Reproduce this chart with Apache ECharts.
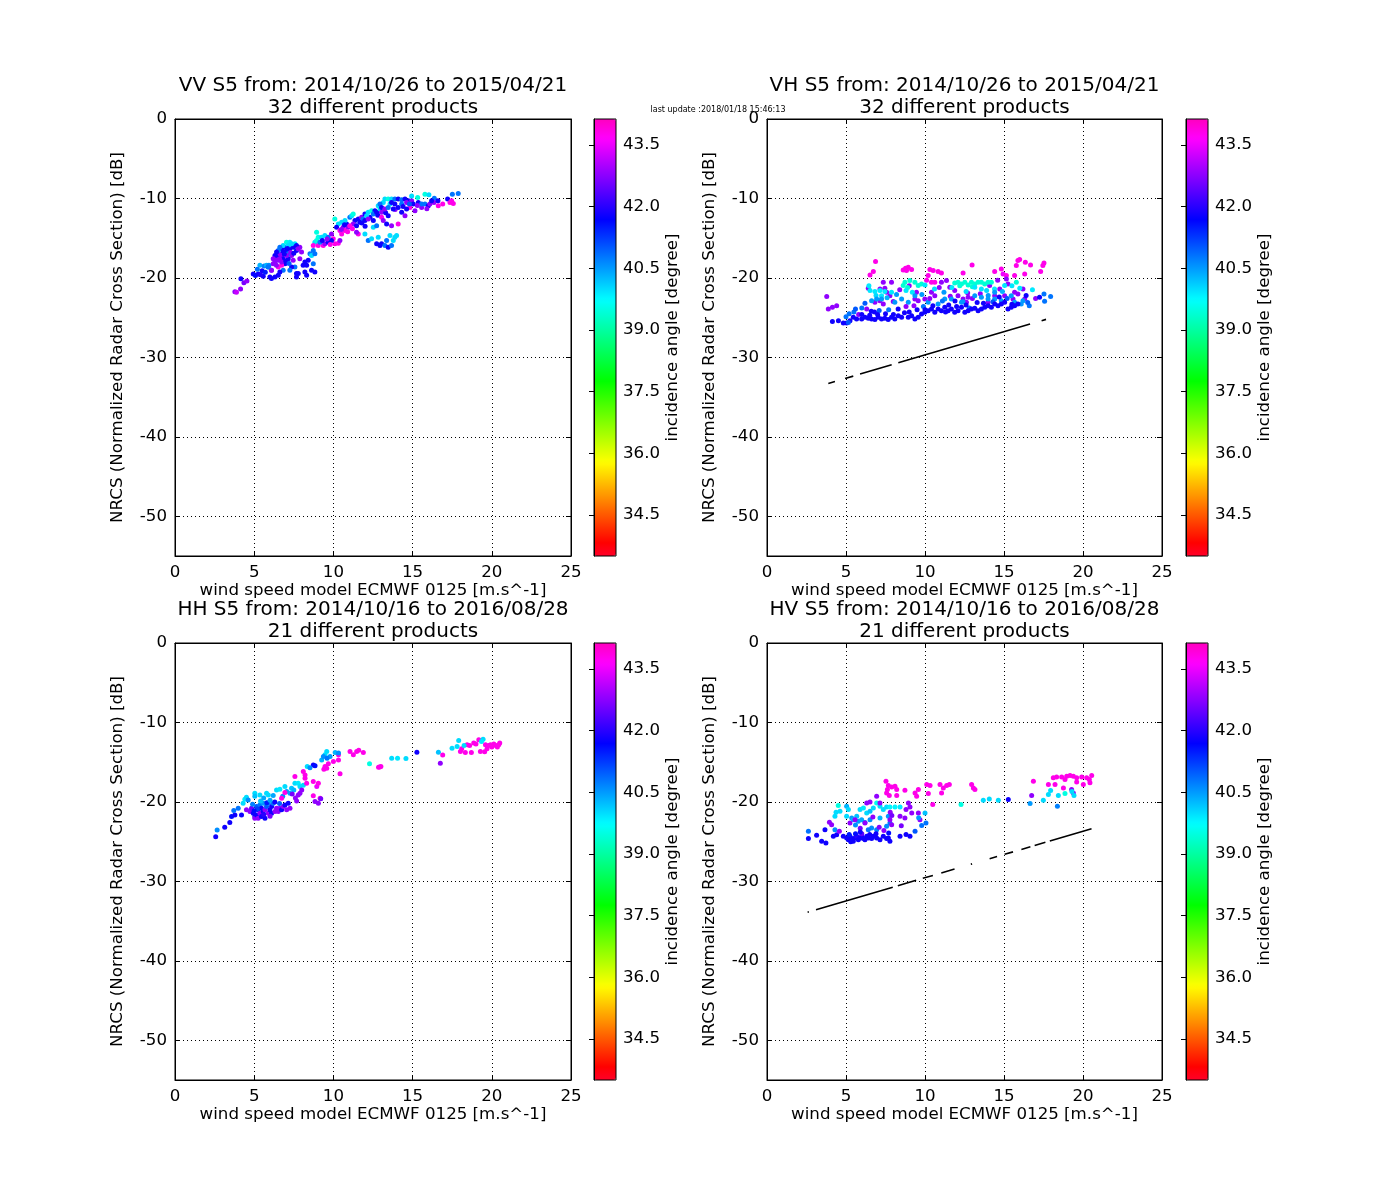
<!DOCTYPE html>
<html><head><meta charset="utf-8">
<script src="https://cdn.jsdelivr.net/npm/echarts@6/dist/echarts.min.js"></script>
<style>html,body{margin:0;padding:0;background:#fff}#c{width:1400px;height:1200px}</style>
</head><body><div id="c"></div>
<script>
// ---------- data: [wind speed, NRCS dB, incidence angle] ----------
const vvData = [
[3.78,-21.75,42.8],[3.88,-21.8,43.2],[4.14,-21.4,42.8],[4.16,-20.1,41.8],[4.35,-20.6,42.6],[4.54,-20.4,42.8],
[4.94,-19.5,41.8],[5.08,-19.7,41.6],[5.25,-19.5,41.8],[5.36,-18.4,40.3],[5.5,-19.1,41.8],[5.63,-18.5,40.7],[5.78,-18.4,40.3],[5.93,-18.4,40.6],[5.99,-19.9,41.8],[5.57,-19.8,41.8],[5.2,-18.9,40.8],[5.4,-19.6,41.9],[5.88,-18.63,40.8],[6.09,-19.04,42.6],[5.7,-19.3,41.5],
[6.2,-18.21,42.8],[6.31,-18.0,42.8],[6.41,-17.58,42.8],[6.52,-17.17,41.8],[6.62,-16.96,42.8],[6.73,-16.33,41.8],[6.94,-16.13,41.8],[7.04,-15.5,39.5],[7.25,-15.5,39.9],[7.57,-15.71,39.9],[7.67,-16.54,41.8],[7.88,-16.13,42.8],[7.99,-16.75,42.8],[7.88,-17.58,42.8],[7.36,-17.17,42.8],[7.15,-17.58,41.8],[6.94,-18.21,41.8],[6.73,-18.42,43.8],[6.52,-18.63,43.8],[7.46,-17.79,42.8],[7.57,-18.63,40.8],[7.36,-18.63,41.8],[7.25,-19.04,40.8],[7.67,-19.46,41.8],[7.67,-19.88,41.8],[6.83,-19.04,40.8],[6.62,-19.25,41.8],[6.09,-19.04,42.8],[5.88,-18.63,40.8],[6.31,-19.88,41.8],[6.52,-19.67,41.8],[6.09,-20.08,41.8],
[6.83,-16.75,41.8],[7.04,-16.54,41.8],[7.15,-16.96,40.8],[6.73,-17.17,42.8],[6.83,-17.58,41.8],[7.04,-17.17,42.8],[7.25,-16.33,41.8],[7.46,-16.13,41.8],[7.36,-15.71,40.0],[7.15,-15.92,40.0],[6.83,-15.92,40.0],[6.62,-16.13,40.8],[6.52,-16.54,40.8],[6.41,-16.75,41.8],[6.31,-17.17,41.8],[6.2,-17.58,42.8],[6.52,-17.79,42.8],[6.73,-18.0,42.8],[7.67,-15.92,41.8],[7.78,-16.33,42.8],
[6.9,-17.0,41.8],[7.1,-16.3,41.8],[7.3,-16.8,42.8],[7.5,-16.9,41.8],[6.6,-17.6,42.8],[7.0,-17.9,41.8],[7.2,-18.2,41.0],[6.4,-18.4,42.8],
[8.41,-17.79,41.8],[8.2,-18.0,41.8],[8.09,-18.42,41.8],[8.31,-18.42,41.8],[8.2,-19.25,41.8],[8.62,-19.04,41.8],[8.83,-19.25,41.8],[7.78,-19.46,41.8],[8.31,-19.67,41.8],[8.73,-18.21,40.8],[8.52,-16.96,40.8],[8.62,-17.17,40.0],[8.73,-16.54,40.8],[8.83,-16.96,40.8],[8.83,-15.5,40.0],[8.94,-14.25,39.5],[9.04,-14.88,39.5],[8.73,-15.92,43.8],[9.04,-15.92,43.8],[9.36,-15.92,43.8],[9.46,-15.71,42.8],[9.25,-14.88,40.0],[9.46,-14.67,40.0],[9.67,-14.88,40.8],[9.88,-14.46,42.8],[9.99,-15.08,43.8],[10.09,-15.71,43.8],[10.31,-15.63,43.8],[10.41,-15.29,42.8],[8.94,-15.29,39.5],[9.15,-15.5,40.8],[9.67,-15.5,41.8],[9.88,-15.29,41.8],[9.6,-15.1,42.8],[9.8,-15.8,43.8],[9.3,-15.3,41.8],
[10.09,-12.58,39.5],[10.31,-13.21,40.0],[10.2,-13.63,41.8],[10.41,-14.04,43.8],[10.62,-13.63,42.8],[10.83,-13.21,41.8],[11.04,-12.38,40.8],[11.15,-12.17,40.0],[11.36,-12.79,41.8],[11.57,-12.58,41.8],[11.78,-12.38,42.8],[11.99,-11.96,41.8],[12.2,-11.75,40.0],[12.41,-11.54,39.5],[12.62,-11.54,41.8],[12.83,-10.92,40.0],[11.57,-14.46,43.8],[11.46,-14.25,42.8],
[10.52,-14.46,43.8],[10.73,-14.04,43.8],[10.94,-13.63,42.8],[10.52,-12.98,40.0],[10.73,-12.79,40.0],[11.25,-13.21,42.8],[11.04,-13.42,43.8],[11.46,-13.42,41.8],[11.67,-13.0,41.8],[11.88,-12.58,40.8],[11.99,-12.79,41.8],[12.31,-12.38,41.8],[12.1,-12.17,40.0],[12.52,-11.96,40.8],[12.73,-11.75,41.8],[12.94,-11.33,40.0],[13.04,-11.75,42.8],[11.25,-11.96,39.5],
[10.5,-13.9,42.8],[10.9,-14.2,43.8],[11.2,-13.8,43.8],[10.7,-13.3,41.8],[12.0,-13.5,41.8],[11.8,-13.1,41.8],[12.2,-12.6,42.8],[12.8,-12.1,41.8],[13.3,-11.8,41.8],[13.9,-11.4,42.8],
[12.52,-12.79,41.8],[12.52,-13.63,40.0],[12.73,-13.42,40.8],[11.99,-14.46,40.0],[12.2,-15.29,40.8],[12.73,-15.71,41.8],[12.94,-15.92,41.8],[13.04,-15.71,41.8],[13.25,-15.92,40.8],[13.46,-16.13,41.8],[13.67,-15.92,40.8],[13.88,-14.88,40.0],[13.99,-14.67,40.0],[13.57,-14.67,40.0],[12.83,-14.88,40.0],[12.41,-15.08,40.0],[13.36,-15.29,40.8],[13.78,-15.29,40.0],
[13.04,-12.38,43.8],[13.15,-12.79,42.8],[13.36,-13.21,41.8],[13.67,-13.42,42.8],[14.09,-13.21,43.8],[13.46,-12.17,41.8],
[13.25,-10.08,40.0],[13.46,-10.08,39.5],[13.67,-10.08,40.0],[13.88,-10.08,40.8],[14.09,-10.08,41.8],[14.31,-10.17,40.8],[14.52,-10.08,41.8],[14.73,-10.29,41.8],[14.94,-10.29,42.8],[15.32,-9.88,39.5],[15.78,-9.46,39.5],[16.03,-9.54,40.0],[16.37,-9.96,40.8],[16.35,-10.5,42.8],[16.62,-10.92,43.8],[17.21,-10.08,41.8],[17.51,-9.46,40.8],[17.88,-9.38,40.8],[17.46,-10.29,43.8],[17.57,-10.63,43.8],[17.36,-10.5,43.8],
[14.83,-11.13,43.8],[14.62,-11.33,41.8],[15.15,-11.54,42.8],[15.57,-11.13,42.8],[15.78,-10.71,40.8],[15.99,-10.92,41.8],[16.09,-10.71,42.8],[14.09,-11.13,41.8],[14.31,-11.75,41.8],[14.52,-12.17,42.8],[13.78,-11.33,41.8],[13.57,-10.71,40.0],
[13.88,-10.71,41.8],[14.31,-10.71,40.8],[14.62,-10.5,42.8],[15.04,-10.71,41.8],[15.36,-10.5,41.8],[15.57,-10.71,40.8],[16.2,-10.29,41.8],[13.67,-10.5,41.8],[13.15,-10.5,40.0],[12.94,-10.71,40.8],[13.04,-11.13,41.8],[13.25,-11.33,42.8],[13.46,-11.13,40.8],[14.94,-9.7,40.0],
[14.4,-11.0,41.8],[14.8,-10.7,41.0],[15.3,-10.9,42.8],[16.6,-10.3,41.8],[16.9,-10.7,43.8],[15.9,-11.3,42.8]
];
const vhData = [
[6.87,-17.94,43.8],[6.73,-19.2,43.8],[6.52,-19.62,43.8],[8.77,-18.78,43.8],[8.94,-18.66,43.8],[9.15,-18.95,43.8],[8.83,-19.08,43.8],[8.62,-19.0,43.8],
[10.31,-18.95,43.8],[10.52,-19.08,43.8],[10.83,-19.2,43.8],[11.04,-19.37,43.8],[10.2,-19.71,43.8],[10.41,-20.55,43.8],[10.62,-20.55,43.8],[10.1,-20.3,43.8],
[12.41,-19.37,43.8],[12.98,-18.36,43.8],[14.41,-19.2,43.8],[14.83,-18.87,43.8],[14.94,-19.5,43.5],[15.15,-19.71,43.8],
[15.78,-18.45,43.8],[15.88,-17.82,43.8],[15.99,-17.69,43.8],[16.35,-18.03,43.8],[16.68,-18.36,43.8],[15.67,-19.71,43.8],[16.31,-19.5,43.8],[17.53,-18.11,43.8],[17.46,-18.45,43.8],[17.32,-19.2,43.8],
[3.78,-22.35,42.8],[3.88,-23.9,42.8],[4.14,-23.7,42.8],[4.41,-23.5,42.8],
[6.41,-21.3,42.8],[7.15,-21.39,42.8],[7.46,-21.3,42.8],[7.88,-20.55,42.8],[7.36,-20.55,42.8],[7.57,-21.81,42.8],[7.78,-22.23,42.8],[7.99,-22.98,42.8],[7.15,-22.86,42.8],[7.36,-23.28,42.8],[6.83,-23.07,42.8],[6.31,-23.91,42.8],
[9.46,-21.81,42.8],[9.57,-22.86,42.8],[9.36,-22.65,42.8],[9.99,-22.65,42.8],[10.41,-21.81,42.8],[10.62,-22.23,42.8],[11.04,-20.55,42.8],[11.36,-20.34,42.8],[11.57,-21.18,42.8],[11.88,-21.6,42.8],[12.09,-22.23,42.8],[12.41,-22.65,42.8],[12.62,-23.07,42.8],[12.73,-22.44,42.8],
[14.09,-20.97,42.8],[14.41,-22.23,42.8],[14.73,-21.39,42.8],[15.15,-20.13,42.8],[15.25,-20.76,42.8],[15.57,-22.65,42.8],[15.67,-21.81,42.8],[15.88,-22.02,42.8],[16.2,-21.39,42.8],[16.31,-22.65,42.8],[13.99,-23.07,42.8],[15.04,-22.23,42.8],
[5.8,-24.6,42.8],[9.0,-21.0,42.8],[10.9,-21.2,42.8],[13.5,-22.0,42.8],[17.0,-22.6,42.8],
[9.3,-23.5,42.8],[8.4,-21.5,42.8],[11.6,-22.3,42.8],[13.0,-22.6,42.8],[14.6,-20.3,42.8],[12.7,-21.9,42.8],
[8.62,-20.97,39.4],[8.73,-20.55,39.4],[9.04,-20.34,39.4],[9.36,-20.55,39.4],[9.57,-20.97,39.4],[9.78,-20.76,39.4],[11.88,-20.63,39.4],[12.09,-20.55,39.4],[12.31,-20.76,39.4],[12.52,-20.55,39.4],[12.73,-20.88,39.4],[12.94,-20.55,39.4],[13.15,-20.76,39.4],[13.36,-20.55,39.4],[13.57,-20.55,39.4],[13.78,-20.76,39.4],[13.99,-20.55,39.4],[14.2,-20.55,39.4],[15.78,-20.55,39.4],[8.9,-21.2,39.4],[12.2,-21.0,39.4],[13.0,-21.1,39.4],
[13.15,-21.18,39.9],[13.57,-21.39,39.9],[6.52,-21.6,39.9],[6.83,-21.72,39.9],[7.15,-21.6,39.9],[7.46,-21.72,39.9],[7.88,-21.81,39.9],[7.25,-22.23,39.9],[15.04,-20.97,39.9],[6.45,-21.0,39.9],[8.8,-21.6,39.9],[9.2,-21.8,39.9],[11.7,-21.2,39.9],[14.4,-21.4,39.9],[15.5,-21.0,39.9],[16.0,-21.3,39.9],[16.8,-21.5,39.9],[10.0,-20.9,39.9],
[6.9,-22.2,40.0],[7.6,-22.5,40.3],[8.2,-22.1,40.5],[9.8,-22.1,40.5],[10.6,-21.4,40.0],[11.2,-21.8,40.5],[12.6,-21.7,40.0],[13.9,-21.6,40.0],[14.9,-21.7,40.3],
[6.62,-22.86,40.5],[6.94,-22.65,40.5],[7.25,-22.65,40.5],[8.09,-23.07,40.5],[8.52,-22.65,40.5],[8.94,-23.07,40.5],[9.36,-22.23,40.5],[10.2,-23.07,40.5],[10.83,-23.28,40.5],[11.25,-22.65,40.5],[11.67,-22.65,40.5],[12.31,-23.07,40.5],[13.15,-22.23,40.5],[13.57,-22.44,40.5],[13.99,-22.65,40.5],[14.41,-22.65,40.5],[14.83,-22.86,40.5],[15.46,-22.23,40.5],[15.67,-23.07,40.5],[16.09,-23.28,40.5],[16.2,-22.86,40.5],[14.41,-21.81,40.5],[5.2,-24.5,40.8],[5.5,-24.3,40.8],[6.0,-23.8,40.8],[9.9,-23.6,40.8],[12.8,-23.8,40.8],[16.6,-23.5,40.8],
[6.6,-24.2,41.8],[7.1,-24.1,41.0],[7.7,-24.0,40.8],[8.3,-23.9,41.8],[8.8,-23.6,42.8],[9.5,-24.0,41.8],[10.3,-22.6,42.8],[11.1,-22.9,40.8],[11.9,-22.9,41.8],[12.4,-23.0,40.5],[13.3,-23.1,41.8],[14.0,-22.2,40.5],[14.7,-22.4,41.8],[15.2,-22.6,41.0],[16.4,-22.2,41.8],[16.5,-23.1,41.0],[6.2,-23.2,41.0],[5.6,-23.9,41.0],[5.0,-24.9,40.8],[10.0,-24.0,41.8],[11.3,-24.3,41.8],[12.0,-23.6,41.8],[14.3,-23.0,41.0],[15.5,-23.3,41.8],
[5.04,-25.67,41.8],[5.25,-25.38,41.8],[5.46,-24.96,41.8],[5.67,-25.17,41.8],[5.99,-25.17,41.8],[6.2,-24.96,41.8],[6.41,-25.08,41.8],[6.62,-25.17,41.8],[6.83,-25.25,41.8],[7.04,-24.96,41.8],[7.25,-25.17,41.8],[7.46,-25.08,41.8],[7.67,-25.25,41.8],[7.88,-24.96,41.8],[8.09,-25.17,41.8],[8.31,-24.75,41.8],[8.52,-24.96,41.8],[8.94,-24.96,41.8],[9.15,-24.75,41.8],[9.36,-25.17,41.8],[9.57,-24.96,41.8],[9.78,-24.54,41.8],[9.99,-24.33,41.8],
[10.2,-24.12,41.8],[10.41,-23.91,41.8],[10.62,-24.33,41.8],[10.83,-23.91,41.8],[11.04,-24.12,41.8],[11.25,-23.7,41.8],[11.46,-24.12,41.8],[11.67,-23.91,41.8],[11.88,-24.33,41.8],[12.09,-24.12,41.8],[12.31,-23.7,41.8],[12.52,-24.33,41.8],[12.73,-24.12,41.8],[12.94,-23.91,41.8],[13.15,-23.82,41.8],[13.36,-24.12,41.8],[13.57,-23.91,41.8],[13.78,-23.7,41.8],[13.99,-23.49,41.8],[14.2,-23.7,41.8],[14.41,-23.28,41.8],[14.62,-23.49,41.8],[14.83,-23.28,41.8],[15.04,-23.07,41.8],[15.25,-23.91,41.8],[15.46,-23.7,41.8],[15.67,-23.49,41.8],[15.88,-23.28,41.8],
[6.0,-24.6,41.8],[6.5,-24.7,41.8],[7.0,-24.6,41.8],[7.5,-24.5,41.8],[8.0,-24.6,41.8],[8.7,-24.4,41.8],[10.5,-23.5,41.8],[11.5,-23.4,41.8],[12.6,-23.4,41.8],[13.7,-23.2,41.8],[9.0,-24.3,41.8],[6.8,-24.3,41.8],
[4.14,-25.5,41.8],[4.52,-25.4,41.8],[4.83,-25.67,41.8],[5.15,-25.6,41.0],
[17.25,-22.44,41.8],[17.53,-22.02,40.8],[17.57,-22.94,40.8],[17.95,-22.35,40.8]
];
const hhData = [
[2.57,-24.37,41.8],[2.66,-23.53,40.6],[3.14,-23.19,41.8],[3.46,-22.6,41.8],[3.57,-21.85,41.6],[3.78,-21.64,41.8],[3.71,-21.09,40.8],[3.99,-20.8,40.8],[4.2,-21.64,41.8],[4.3,-20.17,40.0],[4.41,-19.66,39.9],[4.51,-19.41,40.0],[4.62,-19.75,40.6],[4.51,-21.0,42.8],
[4.73,-21.22,42.8],[4.83,-20.8,42.5],[4.94,-21.43,41.8],[5.04,-21.85,41.8],[5.04,-22.06,42.8],[5.15,-21.64,41.8],[5.15,-20.59,41.0],[5.25,-21.0,41.8],[5.25,-22.06,42.8],[5.36,-21.43,42.8],[5.36,-20.38,40.8],[5.46,-21.85,41.8],[5.46,-20.8,41.8],[5.57,-21.22,41.8],[5.57,-20.17,40.5],[5.68,-22.06,41.8],[5.68,-21.0,42.8],[5.78,-20.59,41.0],[5.89,-21.43,42.8],[5.89,-20.17,40.6],[5.99,-21.0,41.8],[6.1,-20.59,41.8],[6.1,-21.43,41.8],[6.2,-20.17,40.8],[6.31,-21.22,42.8],[6.41,-20.8,42.8],[6.52,-21.22,42.8],[6.62,-20.8,42.8],[6.73,-21.0,41.8],[6.84,-20.59,42.8],[6.94,-20.38,41.8],[7.05,-21.0,42.8],[7.15,-20.17,41.8],[7.26,-20.8,42.8],[5.2,-20.9,41.2],[5.6,-21.6,42.0],[6.0,-21.8,42.6],[5.8,-20.1,41.5],[6.3,-20.0,41.8],[6.6,-20.2,41.0],[6.0,-19.8,40.4],[5.4,-19.9,40.2],[5.0,-21.1,41.6],[4.9,-20.3,40.7],
[5.04,-18.91,40.0],[5.04,-19.3,40.2],[5.36,-19.12,40.0],[5.78,-18.91,40.0],[5.89,-19.12,40.0],[6.41,-18.49,40.0],[6.62,-18.4,39.9],[6.94,-18.07,40.0],[7.36,-18.28,40.2],[7.26,-18.91,40.4],[7.57,-17.65,40.0],[7.78,-17.65,39.9],[7.89,-18.07,40.0],[7.05,-18.7,40.5],[6.2,-19.2,40.4],[5.6,-19.5,40.4],[6.8,-19.3,40.6],[7.5,-18.5,40.3],[8.1,-17.9,40.0],
[6.94,-18.82,43.8],[6.73,-19.54,43.8],[7.57,-16.81,43.8],[8.1,-16.18,43.8],[8.21,-16.6,43.8],[8.31,-17.65,43.8],[8.21,-17.02,43.8],[8.73,-17.44,43.8],[8.95,-18.07,43.5],[9.05,-17.65,43.8],[7.89,-18.91,42.8],[8.0,-18.49,42.8],[7.78,-19.12,42.8],[8.73,-19.24,43.8],[9.16,-19.54,43.8],[8.84,-19.96,42.8],[9.05,-20.17,42.8],[9.2,-19.6,42.6],[7.6,-19.5,42.8],[7.4,-19.0,42.6],[7.68,-19.9,42.8],
[8.35,-15.55,40.0],[8.73,-15.34,41.8],[8.84,-15.46,41.6],[8.52,-15.7,40.6],
[9.26,-14.71,40.3],[9.47,-14.08,40.0],[9.58,-13.66,40.0],[9.37,-14.29,40.6],[9.79,-14.29,40.5],[9.6,-14.5,40.8],
[9.47,-15.55,43.8],[9.58,-15.76,43.8],[9.68,-15.21,43.8],[9.4,-15.9,43.8],
[10.0,-14.92,43.8],[10.32,-14.71,43.8],[10.32,-14.08,43.8],[10.11,-13.78,40.3],[10.32,-13.85,40.6],[10.42,-16.47,43.8],
[11.05,-13.66,43.8],[11.26,-14.08,43.8],[11.47,-13.66,43.8],[11.6,-13.5,43.8],[11.89,-13.78,43.8],
[12.28,-15.21,39.5],[12.92,-15.6,43.8],[13.0,-15.55,43.8],[12.85,-15.65,43.8],
[13.68,-14.5,40.0],[14.05,-14.5,39.9],[14.58,-14.55,40.0],[15.27,-13.74,41.8],
[16.63,-13.75,40.2],[16.9,-14.1,43.8],[16.75,-15.14,42.8],
[17.49,-13.24,40.0],[17.81,-13.03,40.0],[17.91,-12.27,40.0],[18.02,-13.66,43.8],[18.33,-13.78,43.8],[18.71,-13.78,43.8],[19.28,-13.66,43.8],[18.44,-12.82,43.8],[18.86,-12.6,43.8],[19.18,-12.18,43.8],[19.45,-12.1,40.0],[19.35,-12.4,39.9],[19.92,-12.82,43.8],[20.13,-12.7,43.8],[20.44,-12.82,43.8],[20.5,-12.6,43.8],[18.6,-12.9,43.8],[19.0,-12.7,43.8],[19.6,-12.8,43.8],[19.8,-12.9,43.8],[20.0,-13.1,43.8],[20.25,-12.9,43.8],[20.35,-13.1,43.8],[19.55,-13.7,43.8],[18.1,-13.3,43.8],[19.7,-13.3,43.8],[18.25,-12.9,40.0]
];
const hvData = [
[2.62,-23.7,40.8],[2.62,-24.62,41.8],[3.14,-24.2,41.8],[3.46,-24.96,41.8],[3.73,-25.17,41.8],[3.67,-23.49,41.8],[3.95,-22.56,42.8],[4.09,-22.86,42.8],[4.2,-24.33,41.8],[4.41,-24.12,41.8],[4.3,-23.49,40.6],[4.58,-23.7,42.8],
[4.37,-21.3,40.0],[4.62,-21.18,40.0],[4.3,-21.81,40.0],[4.51,-20.46,39.5],[5.04,-20.55,40.3],[5.15,-20.97,40.0],[5.04,-21.81,40.0],[5.36,-22.02,40.5],[5.46,-22.23,40.3],[5.68,-21.81,40.2],[5.78,-22.44,40.5],[5.99,-22.23,40.4],[5.89,-20.97,40.0],[6.1,-20.76,39.9],[6.31,-21.39,40.0],[6.52,-21.18,40.2],[6.73,-20.76,40.0],[6.94,-20.13,39.6],[7.15,-20.55,40.0],[7.36,-20.97,40.0],[7.57,-20.63,40.0],[7.78,-20.63,39.8],[8.1,-20.63,39.8],[8.42,-20.63,39.9],[7.68,-21.81,40.5],[7.78,-22.65,40.8],[7.57,-23.07,40.6],[7.15,-22.02,40.3],[6.94,-23.49,40.7],[6.62,-23.28,40.6],[6.41,-23.49,40.8],[6.52,-22.23,40.6],[5.6,-22.9,40.6],[6.2,-22.6,40.7],
[5.25,-22.65,42.8],[5.57,-22.23,42.8],[6.2,-22.65,42.8],[6.52,-20.0,42.8],[6.94,-19.29,42.8],[6.31,-20.13,42.8],[7.15,-20.13,42.8],[7.89,-22.86,42.8],[7.78,-22.23,42.8],[8.42,-21.81,42.8],[8.73,-22.02,42.8],[8.8,-20.97,42.8],[8.95,-20.13,42.8],[9.05,-20.63,42.8],[9.16,-21.39,42.8],[9.58,-21.39,42.8],[9.68,-22.23,42.8],[7.8,-21.3,42.8],[7.9,-21.7,42.6],[6.7,-21.9,42.8],[5.9,-23.3,42.6],
[7.53,-17.39,43.8],[7.68,-17.94,43.8],[7.62,-18.45,43.8],[7.89,-18.11,43.8],[8.1,-18.03,43.8],[8.21,-18.45,43.8],[7.57,-18.87,43.8],[7.74,-19.2,43.8],[8.21,-19.2,43.8],[8.73,-18.53,43.8],[9.37,-18.87,43.8],[9.47,-19.29,43.8],[9.58,-18.45,43.8],[10.11,-17.82,43.8],[10.32,-17.94,43.8],[10.21,-18.95,43.8],[10.49,-20.34,43.8],[10.95,-17.82,43.8],[11.05,-18.87,43.8],[11.16,-18.24,43.8],[11.37,-17.94,43.8],[11.54,-17.82,43.8],[12.95,-17.82,43.8],[13.06,-18.24,43.8],[13.16,-18.45,43.8],[16.86,-17.39,43.8],[16.75,-19.2,42.8],[17.81,-17.82,43.8],[18.12,-16.97,43.8],[18.33,-16.85,43.8],[18.65,-16.85,43.8],[18.86,-17.18,43.8],[18.97,-16.76,43.8],[19.18,-16.68,43.8],[19.39,-16.76,43.8],[19.6,-16.97,43.8],[19.92,-16.85,43.8],[20.23,-16.97,43.8],[20.4,-17.18,43.8],[20.55,-16.68,43.8],[20.44,-17.6,43.8],[20.02,-17.82,43.8],[18.23,-17.82,43.8],[18.76,-18.24,43.8],[19.28,-18.45,42.8],[19.39,-18.87,42.8],[19.6,-17.5,43.8],
[12.28,-20.34,39.5],[13.69,-19.79,40.0],[14.07,-19.62,40.0],[14.64,-19.79,40.0],[15.27,-19.71,41.8],[16.65,-20.21,40.5],[17.49,-19.79,40.0],[17.81,-19.08,40.0],[17.95,-18.57,40.0],[18.44,-19.2,40.0],[18.86,-18.95,39.5],[19.43,-19.2,40.0],[18.38,-20.55,40.7],[19.3,-18.7,40.0],
[4.83,-24.33,41.8],[5.04,-24.54,41.8],[5.15,-24.75,41.8],[5.25,-24.33,41.8],[5.36,-24.62,41.8],[5.46,-24.96,41.8],[5.57,-24.54,41.8],[5.68,-24.33,42.0],[5.78,-24.75,41.8],[5.89,-24.54,41.8],[5.99,-24.33,41.8],[6.1,-24.62,41.8],[6.2,-24.75,41.8],[6.31,-24.33,41.8],[6.41,-24.54,41.8],[6.62,-24.62,41.8],[6.73,-24.33,41.8],[6.94,-24.54,41.8],[7.15,-24.75,41.8],[7.36,-24.33,41.8],[7.57,-24.62,41.8],[7.68,-24.54,41.8],[7.78,-24.96,41.8],[5.2,-24.1,41.5],[5.6,-24.0,41.6],[6.0,-24.0,42.4],[6.5,-24.1,41.8],[5.3,-25.0,41.8],[6.9,-24.0,41.8],[5.9,-23.8,41.8],
[8.42,-24.33,41.8],[9.05,-24.33,41.8],[8.8,-24.1,41.8],[9.37,-23.7,41.0],[9.79,-22.98,40.8],[10.06,-22.65,40.8],[10.0,-21.39,40.2],[9.6,-22.0,40.5],[8.5,-23.0,42.6],[7.4,-23.6,42.8],[7.7,-23.9,41.6],[7.1,-23.2,42.7]
];
// noise-equivalent sigma0 traces (segments), [wind speed, dB]
const vhNoiseSegments = [
[[3.88,-33.28],[4.30,-33.03]],[[4.94,-32.66],[5.46,-32.36]],[[5.89,-32.10],[7.89,-30.93]],[[8.31,-30.69],[16.65,-25.81]],[[17.38,-25.38],[17.66,-25.22]]
];
const hvNoiseSegments = [
[[2.57,-33.88],[2.65,-33.83]],[[3.10,-33.57],[7.96,-30.73]],[[8.28,-30.55],[9.44,-29.87]],[[9.86,-29.62],[10.50,-29.25]],[[11.03,-28.94],[11.87,-28.45]],[[12.90,-27.85],[12.98,-27.80]],[[14.09,-27.15],[14.56,-26.88]],[[15.04,-26.60],[15.57,-26.29]],[[16.10,-25.98],[16.67,-25.65]],[[16.94,-25.49],[17.62,-25.09]],[[17.90,-24.93],[20.54,-23.39]]
];
const xTicks = [0,5,10,15,20,25];
const yTicks = [0,-10,-20,-30,-40,-50];
const cbTicks = [34.5,36.0,37.5,39.0,40.5,42.0,43.5];
const cbRange = [33.5,44.13];
const titles = [
 'VV S5 from: 2014/10/26 to 2015/04/21\n32 different products',
 'VH S5 from: 2014/10/26 to 2015/04/21\n32 different products',
 'HH S5 from: 2014/10/16 to 2016/08/28\n21 different products',
 'HV S5 from: 2014/10/16 to 2016/08/28\n21 different products'
];
const updateText = 'last update :2018/01/18 15:46:13';
const xName = 'wind speed model ECMWF 0125 [m.s^-1]';
const yName = 'NRCS (Normalized Radar Cross Section) [dB]';
const cbName = 'incidence angle [degree]';

// ---------- colormap (gist_rainbow) ----------
const stops=[[0,[1,0,0.16]],[0.03,[1,0,0]],[0.215,[1,1,0]],[0.4,[0,1,0]],[0.586,[0,1,1]],[0.77,[0,0,1]],[0.954,[1,0,1]],[1,[1,0,0.75]]];
function cm(t){for(let k=1;k<stops.length;k++){if(t<=stops[k][0]){const a=stops[k-1],b=stops[k];const f=(t-a[0])/(b[0]-a[0]);return a[1].map((v,j)=>v+(b[1][j]-v)*f);}}return stops[stops.length-1][1];}
function hex(c){return '#'+c.map(v=>Math.round(v*255).toString(16).padStart(2,'0')).join('');}
const cmapColors=[];for(let i=0;i<=100;i++)cmapColors.push(hex(cm(i/100)));

// ---------- layout ----------
const panels=[{l:175,t:119,w:396,cb:594},{l:767,t:119,w:395,cb:1186},{l:175,t:643,w:396,cb:594},{l:767,t:643,w:395,cb:1186}];
const H=437, CBW=22;
const FF='DejaVu Sans';
const black={color:'#000',width:1};
const grids=[],xAxes=[],yAxes=[],series=[],visualMaps=[],graphics=[];
const datas=[vvData,vhData,hhData,hvData];
const noise={1:vhNoiseSegments,3:hvNoiseSegments};
panels.forEach((p,i)=>{
  grids.push({left:p.l,top:p.t,width:p.w,height:H,show:true,borderColor:'#000',borderWidth:1,backgroundColor:'transparent'});
});
panels.forEach((p,i)=>{
  grids.push({left:p.cb,top:p.t,width:CBW,height:H,show:true,borderColor:'#000',borderWidth:1,backgroundColor:'transparent',z:5});
});
panels.forEach((p,i)=>{
  xAxes.push({type:'value',gridIndex:i,position:'bottom',min:0,max:25,interval:5,
    axisLine:{show:true,onZero:false,lineStyle:black},axisTick:{show:true,inside:true,length:5,lineStyle:black},
    axisLabel:{color:'#000',fontSize:16.67,fontFamily:FF,margin:8},
    splitLine:{show:true,lineStyle:{color:'#000',width:1,type:[1,3]}},
    name:xName,nameLocation:'middle',nameGap:26,nameTextStyle:{color:'#000',fontSize:16.67,fontFamily:FF}});
  xAxes.push({type:'value',gridIndex:i,position:'top',min:0,max:25,interval:5,
    axisLine:{show:true,onZero:false,lineStyle:black},axisTick:{show:true,inside:true,length:5,lineStyle:black},
    axisLabel:{show:false},splitLine:{show:false}});
  yAxes.push({type:'value',gridIndex:i,position:'left',min:-55,max:0,
    axisLine:{show:true,onZero:false,lineStyle:black},axisTick:{show:true,inside:true,length:5,lineStyle:black,customValues:yTicks},
    axisLabel:{color:'#000',fontSize:16.67,fontFamily:FF,margin:8,customValues:yTicks},
    splitLine:{show:true,lineStyle:{color:'#000',width:1,type:[1,3]}},
    name:yName,nameLocation:'middle',nameGap:49,nameRotate:90,nameTextStyle:{color:'#000',fontSize:16.67,fontFamily:FF}});
  yAxes.push({type:'value',gridIndex:i,position:'right',min:-55,max:0,
    axisLine:{show:true,onZero:false,lineStyle:black},axisTick:{show:true,inside:true,length:5,lineStyle:black,customValues:yTicks},
    axisLabel:{show:false,customValues:yTicks},splitLine:{show:false}});
});
panels.forEach((p,i)=>{
  xAxes.push({type:'value',gridIndex:4+i,min:0,max:1,show:false});
  yAxes.push({type:'value',gridIndex:4+i,position:'right',min:cbRange[0],max:cbRange[1],z:10,
    axisLine:{show:true,lineStyle:black},axisTick:{show:true,inside:true,length:5,lineStyle:black,customValues:cbTicks},
    axisLabel:{color:'#000',fontSize:16.67,fontFamily:FF,margin:7,customValues:cbTicks,formatter:v=>Number(v).toFixed(1)},
    splitLine:{show:false},
    name:cbName,nameLocation:'middle',nameGap:48,nameRotate:90,nameTextStyle:{color:'#000',fontSize:16.67,fontFamily:FF}});
});
panels.forEach((p,i)=>{
  series.push({type:'scatter',xAxisIndex:2*i,yAxisIndex:2*i,data:datas[i],symbolSize:5,itemStyle:{opacity:1},animation:false,z:3});
  visualMaps.push({type:'continuous',seriesIndex:i,dimension:2,min:cbRange[0],max:cbRange[1],inRange:{color:cmapColors},
    calculable:false,hoverLink:false,left:p.cb,top:p.t,itemWidth:CBW,itemHeight:H,padding:0,text:null,showLabel:false,orient:'vertical',z:1});
  graphics.push({type:'text',x:p.l+p.w/2,y:p.t-44,style:{text:titles[i],fontSize:20,fontFamily:FF,fill:'#000',align:'center',verticalAlign:'top',lineHeight:22}});
});
[1,3].forEach(i=>{
  const d=[];noise[i].forEach(seg=>{seg.forEach(pt=>d.push(pt));d.push(['-','-']);});
  series.push({type:'line',xAxisIndex:2*i,yAxisIndex:2*i,data:d,symbol:'none',connectNulls:false,lineStyle:{color:'#000',width:1.6},z:4,animation:false});
});
graphics.push({type:'text',x:718,y:110,style:{text:updateText,fontSize:8,fontFamily:FF,fill:'#000',align:'center',verticalAlign:'middle'}});

const chart=echarts.init(document.getElementById('c'),null,{renderer:'canvas'});
chart.setOption({animation:false,backgroundColor:'#fff',grid:grids,xAxis:xAxes,yAxis:yAxes,series:series,visualMap:visualMaps,graphic:graphics});
</script></body></html>
